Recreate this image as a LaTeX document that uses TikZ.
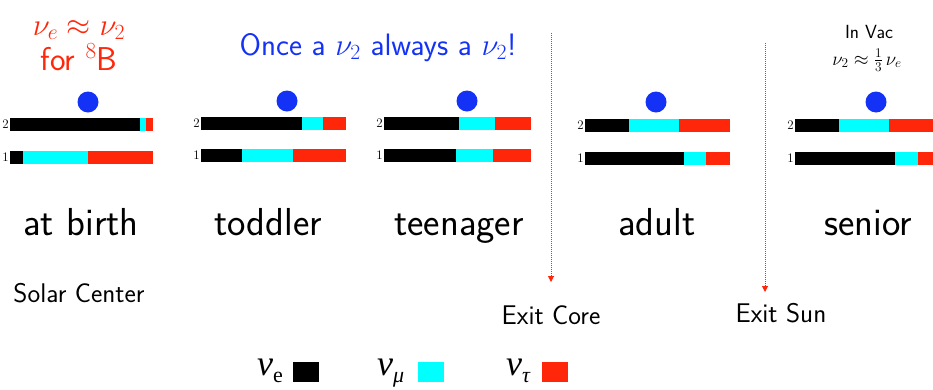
\RequirePackage{fix-cm}
\documentclass[tikz,border=0pt]{standalone}
\usepackage{amsmath}
\usepackage{amssymb}
\usepackage{fontspec}
\newfontfamily\legendfont{Liberation Serif}
\usetikzlibrary{arrows.meta, positioning}
\definecolor{nublue}{RGB}{20,50,245}
\definecolor{nured}{RGB}{255,38,10}
\definecolor{nucyan}{RGB}{0,255,255}

\newcommand{\fsz}[1]{\fontsize{#1}{#1}\selectfont}
% one mass-state bar: left, end of nu_e, end of nu_mu, right, top edge
\newcommand{\flavourbar}[5]{%
  \fill[black]  (#1,#5) rectangle (#2,#5+12.5);
  \fill[nucyan] (#2,#5) rectangle (#3,#5+12.5);
  \fill[nured]  (#3,#5) rectangle (#4,#5+12.5);}

\begin{document}
\begin{tikzpicture}[x=1pt, y=-1pt, font=\sffamily,
    rowlbl/.style={anchor=east, inner sep=1pt, font=\rmfamily\fsz{13}},
    stagelbl/.style={anchor=base, inner sep=0pt, font=\sffamily\fsz{39}},
    placelbl/.style={anchor=base, inner sep=0pt, font=\sffamily\fsz{27}},
    exitarrow/.style={nured, line width=1pt, dash pattern=on 1pt off 1pt,
        -{Triangle[length=6pt, width=6pt]}},
    legbox/.style={anchor=south west, minimum width=26pt, minimum height=20pt,
        inner sep=0pt}]

    % page is 933 x 389 px, origin top left, 1 px = 1 pt
    \useasboundingbox (0,0) rectangle (933,389);

    % Headings
    \node[anchor=base, text=nured, font=\sffamily\fsz{31}] (same)
        at (79,35) {$\nu_e\approx\nu_2$};
    \node[anchor=base, text=nured, font=\sffamily\fsz{33}] (boron)
        at (79,70) {for $^8$B};
    \node[anchor=base, text=nublue, font=\sffamily\fsz{31}] (once)
        at (378,55) {Once a $\nu_2$ always a $\nu_2$!};
    \node[anchor=base, inner sep=0pt, font=\sffamily\fsz{19}] (invac)
        at (869,38) {In Vac};
    \node[anchor=base, inner sep=0pt, font=\sffamily\fsz{19}] (third)
        at (867,65) {$\nu_2\approx\frac{1}{3}\,\nu_e$};

    % Bars: row 2 on top, row 1 below
    \flavourbar{10}{140}{146}{153}{118}
    \flavourbar{10}{23}{88}{153}{151}
    \flavourbar{201}{302}{323}{346}{117}
    \flavourbar{201}{242}{293}{346}{149}
    \flavourbar{384}{459}{495}{531}{117}
    \flavourbar{384}{456}{493}{531}{149}
    \flavourbar{585}{629}{679}{730}{119}
    \flavourbar{585}{684}{706}{730}{152}
    \flavourbar{795}{839}{889}{933}{119}
    \flavourbar{795}{895}{918}{933}{152}

    % Row numbers
    \node[rowlbl] (birth2) at (10,124)  {2};
    \node[rowlbl] (birth1) at (10,157)  {1};
    \node[rowlbl] (todd2)  at (201,123) {2};
    \node[rowlbl] (todd1)  at (201,155) {1};
    \node[rowlbl] (teen2)  at (384,123) {2};
    \node[rowlbl] (teen1)  at (384,155) {1};
    \node[rowlbl] (adult2) at (585,125) {2};
    \node[rowlbl] (adult1) at (585,158) {1};
    \node[rowlbl] (sen2)   at (795,125) {2};
    \node[rowlbl] (sen1)   at (795,158) {1};

    % The neutrino sits in state 2
    \fill[nublue] (88,102)  circle (10.5);
    \fill[nublue] (287,101) circle (10.5);
    \fill[nublue] (467,101) circle (10.5);
    \fill[nublue] (656,102) circle (10.5);
    \fill[nublue] (876,102) circle (10.5);

    % Stages
    \node[stagelbl] (birth) at (81,235)  {at birth};
    \node[stagelbl] (todd)  at (268,235) {toddler};
    \node[stagelbl] (teen)  at (459,235) {teenager};
    \node[stagelbl] (adult) at (657,235) {adult};
    \node[stagelbl] (sen)   at (868,235) {senior};

    % Places
    \node[placelbl] (centre)   at (79,302)  {Solar Center};
    \node[placelbl] (exitcore) at (551,324) {Exit Core};
    \node[placelbl] (exitsun)  at (781,322) {Exit Sun};

    % Boundaries
    \coordinate (coretop) at (551,33);
    \coordinate (coretip) at (551,282);
    \coordinate (suntop)  at (765,43);
    \coordinate (suntip)  at (765,292);
    \draw[exitarrow] (coretop) -- (coretip);
    \draw[exitarrow] (suntop) -- (suntip);

    % Legend
    \node[anchor=base west, inner sep=0pt] (nue) at (257,375)
        {\legendfont\fsz{36}\itshape ν\raisebox{-7pt}{\upshape\fsz{22}e}};
    \node[legbox, fill=black] (boxe) at (293,382) {};
    \node[anchor=base west, inner sep=0pt] (numu) at (377,375)
        {\legendfont\fsz{36}\itshape ν\raisebox{-7pt}{\fsz{22}μ}};
    \node[legbox, fill=nucyan] (boxmu) at (418,382) {};
    \node[anchor=base west, inner sep=0pt] (nutau) at (506,375)
        {\legendfont\fsz{36}\itshape ν\raisebox{-7pt}{\fsz{22}τ}};
    \node[legbox, fill=nured] (boxtau) at (542,382) {};

\end{tikzpicture}
\end{document}
